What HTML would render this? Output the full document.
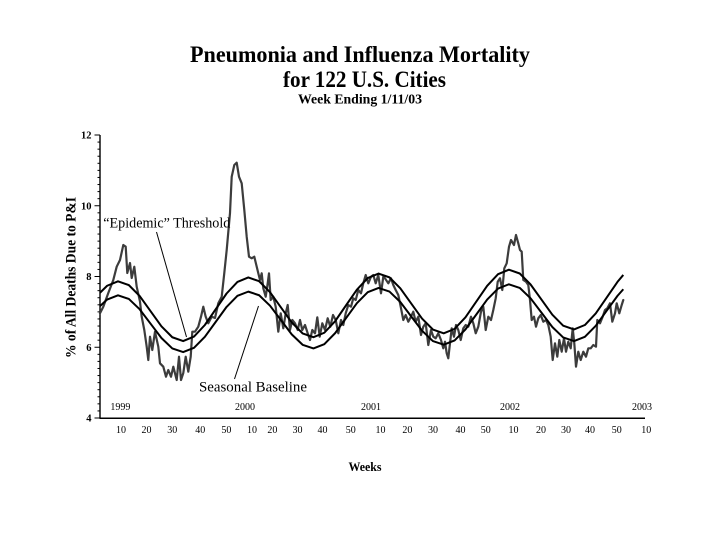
<!DOCTYPE html>
<html>
<head>
<meta charset="utf-8">
<style>
  html, body { margin: 0; padding: 0; background: #ffffff; }
  svg { display: block; }
  text { font-family: "Liberation Serif", "Times New Roman", serif; fill: #000; }
</style>
</head>
<body>
<svg width="720" height="540" viewBox="0 0 720 540" xmlns="http://www.w3.org/2000/svg">
  <rect x="0" y="0" width="720" height="540" fill="#ffffff"/>

  <!-- Titles -->
  <text x="190" y="62" font-size="23" font-weight="bold" textLength="340" lengthAdjust="spacingAndGlyphs">Pneumonia and Influenza Mortality</text>
  <text x="283" y="87" font-size="23" font-weight="bold" textLength="163" lengthAdjust="spacingAndGlyphs">for 122 U.S. Cities</text>
  <text x="298" y="103.5" font-size="14" font-weight="bold" textLength="124" lengthAdjust="spacingAndGlyphs">Week Ending 1/11/03</text>

  <!-- Y axis label -->
  <text x="0" y="0" font-size="15" font-weight="bold" text-anchor="middle" textLength="161" lengthAdjust="spacingAndGlyphs" transform="translate(75.5,277.5) rotate(-90)">% of All Deaths Due to P&amp;I</text>

  <!-- Axes -->
  <line x1="100" y1="135" x2="100" y2="418.5" stroke="#000" stroke-width="1.4"/>
  <line x1="99.5" y1="418.3" x2="645" y2="418.3" stroke="#000" stroke-width="1.5"/>

  <!-- Y ticks -->
  <g stroke="#000" stroke-width="1">
    <line x1="94.5" y1="135" x2="100" y2="135"/>
    <line x1="94.5" y1="205.75" x2="100" y2="205.75"/>
    <line x1="94.5" y1="276.5" x2="100" y2="276.5"/>
    <line x1="94.5" y1="347.25" x2="100" y2="347.25"/>
    <line x1="94.5" y1="418" x2="100" y2="418"/>
    <!-- minor ticks every 0.2 -->
    <line x1="97.5" y1="142.08" x2="100" y2="142.08"/>
    <line x1="97.5" y1="149.15" x2="100" y2="149.15"/>
    <line x1="97.5" y1="156.23" x2="100" y2="156.23"/>
    <line x1="97.5" y1="163.30" x2="100" y2="163.30"/>
    <line x1="97.5" y1="170.38" x2="100" y2="170.38"/>
    <line x1="97.5" y1="177.45" x2="100" y2="177.45"/>
    <line x1="97.5" y1="184.53" x2="100" y2="184.53"/>
    <line x1="97.5" y1="191.60" x2="100" y2="191.60"/>
    <line x1="97.5" y1="198.68" x2="100" y2="198.68"/>
    <line x1="97.5" y1="212.83" x2="100" y2="212.83"/>
    <line x1="97.5" y1="219.90" x2="100" y2="219.90"/>
    <line x1="97.5" y1="226.98" x2="100" y2="226.98"/>
    <line x1="97.5" y1="234.05" x2="100" y2="234.05"/>
    <line x1="97.5" y1="241.13" x2="100" y2="241.13"/>
    <line x1="97.5" y1="248.20" x2="100" y2="248.20"/>
    <line x1="97.5" y1="255.28" x2="100" y2="255.28"/>
    <line x1="97.5" y1="262.35" x2="100" y2="262.35"/>
    <line x1="97.5" y1="269.43" x2="100" y2="269.43"/>
    <line x1="97.5" y1="283.58" x2="100" y2="283.58"/>
    <line x1="97.5" y1="290.65" x2="100" y2="290.65"/>
    <line x1="97.5" y1="297.73" x2="100" y2="297.73"/>
    <line x1="97.5" y1="304.80" x2="100" y2="304.80"/>
    <line x1="97.5" y1="311.88" x2="100" y2="311.88"/>
    <line x1="97.5" y1="318.95" x2="100" y2="318.95"/>
    <line x1="97.5" y1="326.03" x2="100" y2="326.03"/>
    <line x1="97.5" y1="333.10" x2="100" y2="333.10"/>
    <line x1="97.5" y1="340.18" x2="100" y2="340.18"/>
    <line x1="97.5" y1="354.33" x2="100" y2="354.33"/>
    <line x1="97.5" y1="361.40" x2="100" y2="361.40"/>
    <line x1="97.5" y1="368.48" x2="100" y2="368.48"/>
    <line x1="97.5" y1="375.55" x2="100" y2="375.55"/>
    <line x1="97.5" y1="382.63" x2="100" y2="382.63"/>
    <line x1="97.5" y1="389.70" x2="100" y2="389.70"/>
    <line x1="97.5" y1="396.78" x2="100" y2="396.78"/>
    <line x1="97.5" y1="403.85" x2="100" y2="403.85"/>
    <line x1="97.5" y1="410.93" x2="100" y2="410.93"/>
  </g>

  <!-- Y tick labels -->
  <g font-size="10.5" font-weight="bold" text-anchor="end">
    <text x="91.5" y="138.5">12</text>
    <text x="91.5" y="209.3">10</text>
    <text x="91.5" y="280">8</text>
    <text x="91.5" y="350.8">6</text>
    <text x="91.5" y="421.5">4</text>
  </g>

  <!-- Year labels -->
  <g font-size="10" text-anchor="middle">
    <text x="120.4" y="410">1999</text>
    <text x="245" y="410">2000</text>
    <text x="371" y="410">2001</text>
    <text x="510" y="410">2002</text>
    <text x="642" y="410">2003</text>
  </g>

  <!-- Week labels -->
  <g font-size="10" text-anchor="middle">
    <text x="121" y="433">10</text>
    <text x="146.5" y="433">20</text>
    <text x="172.3" y="433">30</text>
    <text x="200.3" y="433">40</text>
    <text x="226.4" y="433">50</text>
    <text x="252" y="433">10</text>
    <text x="272.4" y="433">20</text>
    <text x="297.5" y="433">30</text>
    <text x="322.5" y="433">40</text>
    <text x="350.7" y="433">50</text>
    <text x="380.5" y="433">10</text>
    <text x="407.4" y="433">20</text>
    <text x="433" y="433">30</text>
    <text x="460.5" y="433">40</text>
    <text x="485.8" y="433">50</text>
    <text x="513.5" y="433">10</text>
    <text x="541" y="433">20</text>
    <text x="566" y="433">30</text>
    <text x="590" y="433">40</text>
    <text x="616.7" y="433">50</text>
    <text x="646.2" y="433">10</text>
  </g>

  <!-- X axis title -->
  <text x="365" y="471" font-size="12.5" font-weight="bold" text-anchor="middle" textLength="33" lengthAdjust="spacingAndGlyphs">Weeks</text>

  <!-- Observed data -->
  <polyline fill="none" stroke="#3c3c3c" stroke-width="2.2" stroke-linejoin="round" stroke-linecap="round" points="
100,313.3 103.3,306.7 108.3,293 113.3,280 116.7,266.7 120,260 123.3,245 125.7,246.7 127.3,273 130,263
131.7,278 134.3,266.7 136.7,286.7 140,301.7 141.7,316.7 144.3,330 146.7,346.7 148.3,360 150,336.7 152.3,350
155,331.7 158.3,346.7 160,363.3 163.3,366.7 166,376.7 168.3,370 171,376.7 173.3,366.7 176.7,380 179,356.7
181,380 183.3,373 185.7,356.7 188.3,371.7 190.7,356.7 192.3,331.7 195,331.7 198.3,326.7 201,316.7 203.3,306.7
205.7,316.7 208.3,323.3 211.7,316.7 215,318 218.3,303.3 221.7,296.7 224.3,273 226.7,250 230,213 231.7,176.7
234.3,165 236.7,162.7 239,176.7 241.7,183.3 244.3,210 246.7,236.7 249,256.7 251.7,258.3 254.3,256.7
258.3,273.3 260,280 261.7,273.3 263.3,288.3 265.7,296.7 267.7,283.3 269,273.3 270.7,300 273.3,296.7 275.7,306.7
278.3,331.7 280.7,313.3 283.3,328.3 285.7,313.3 287.7,305 290,330 292.3,320 295,323.3 297.7,330 300,320
302.3,330 305,325 307.7,333.3 310,340 312.3,330 315,333.3 317.3,317.3 319.7,336.7 322.3,323.3 325,330
327.7,318.3 330.3,326.7 333,315 335.7,320 338.3,333.3 341,320 343.3,325 345.7,313.3 348.3,305 351,306.7
353.3,298.3 355.7,300 358.3,290 361,293.3 363.3,283.3 365.7,275 368.3,283.3 371,276.7 373.3,275 375.7,283.3
378.3,275 381,293.3 383.3,276.7
385,278.3 388.3,283.3 391,278.3 393.3,285 395.7,290 398.3,295 400.7,306.7 403.3,320 405.7,315 408.3,321.7
411,316.7 413.3,311.7 415.7,321.7 418.3,316.7 421,335 423.3,326.7 425.7,323.3 428.3,345 431,330 433.3,336.7
435.7,338.3 438.3,333.3 441,340 443.3,348.3 445,341.7 446.7,353.3 448.3,358.3 450,343.3 451.7,328.3 454,336.7
456,325 458.3,330 460.7,340 463.3,328.3 465.7,325 468.3,326.7 471,316.7 473.3,323.3 475.7,333.3 478.3,326.7
481,311.7 483.3,306.7 485.7,330 488.3,316.7 491,320 493.3,310 495.7,298.3 497.7,281.7 500,278.3 502.3,290
504.3,268.3 506.7,263.3 509,246.7 511,240
514,245 516,235 518.3,243.3 520,250 521.7,251.7 523.3,280 526,281.7 528.3,285 530,300 531.7,320
534,316.7 536,326.7 538.3,318.3 540.7,315 543.3,321.7 546,320 548.3,325 550.7,336.7 552.7,360 555,343.3
557.3,356.7 559.3,340 561.7,351.7 564,338.3 566,351.7 568.3,341.7 570.7,348.3 572.7,328.3 574.3,343.3 576,366.7
578.3,351.7 580.7,360 583.3,351.7 586,356.7 588.3,348.3 590.7,348.3 593.3,345 596,346.7 597.3,320 600,323.3
602.7,316.7 605,310 607.3,308.3 610,303.3 612.3,321.7 615,313.3 616.7,303.3 619.3,313.3 621.7,305 623.3,300"/>

  <!-- Seasonal baseline -->
  <polyline fill="none" stroke="#000" stroke-width="2" stroke-linejoin="round" points="
100,306.16 107.14,299.54 118,295.30 128.86,298.93 139.72,309.34 150.57,323.68 161.43,338.03 172.29,348.44
183.15,352.07 194.01,347.83 204.86,336.80 215.72,321.85 226.58,306.89 237.44,295.86 248.30,291.63 259.15,295.25
270.01,305.67 280.87,320.01 291.73,334.35 302.59,344.77 313.44,348.39 324.30,344.16 335.16,333.13 346.02,318.17
356.88,303.22 367.73,292.19 378.59,287.95 389.45,291.58 400.31,301.99 411.17,316.34 422.02,330.68 432.88,341.09
443.74,344.72 454.60,340.48 465.46,329.45 476.31,314.50 487.17,299.54 498.03,288.52 508.89,284.28 519.75,287.90
530.60,298.32 541.46,312.66 552.32,327.01 563.18,337.42 574.04,341.04 584.89,336.81 595.75,325.78 606.61,310.82
617.47,295.87 623.3,289.26"/>

  <!-- Epidemic threshold -->
  <polyline fill="none" stroke="#000" stroke-width="2" stroke-linejoin="round" points="
100,292.73 107.14,285.76 118,281.30 128.86,285.12 139.72,296.08 150.57,311.18 161.43,326.29 172.29,337.25
183.15,341.08 194.01,336.61 204.86,325.00 215.72,309.25 226.58,293.50 237.44,281.89 248.30,277.43 259.15,281.24
270.01,292.22 280.87,307.32 291.73,322.42 302.59,333.39 313.44,337.20 324.30,332.75 335.16,321.13 346.02,305.38
356.88,289.64 367.73,278.02 378.59,273.56 389.45,277.38 400.31,288.34 411.17,303.45 422.02,318.55 432.88,329.51
443.74,333.34 454.60,328.87 465.46,317.26 476.31,301.51 487.17,285.76 498.03,274.16 508.89,269.69 519.75,273.50
530.60,284.48 541.46,299.58 552.32,314.69 563.18,325.65 574.04,329.46 584.89,325.01 595.75,313.39 606.61,297.64
617.47,281.90 623.3,274.94"/>

  <!-- Annotations -->
  <text x="103.3" y="227.3" font-size="14.5" textLength="127" lengthAdjust="spacingAndGlyphs">“Epidemic” Threshold</text>
  <line x1="156.5" y1="232" x2="186.5" y2="337" stroke="#000" stroke-width="1"/>
  <text x="199" y="391.3" font-size="15" textLength="108" lengthAdjust="spacingAndGlyphs">Seasonal Baseline</text>
  <line x1="234.5" y1="379" x2="258.5" y2="306" stroke="#000" stroke-width="1"/>
</svg>
</body>
</html>
